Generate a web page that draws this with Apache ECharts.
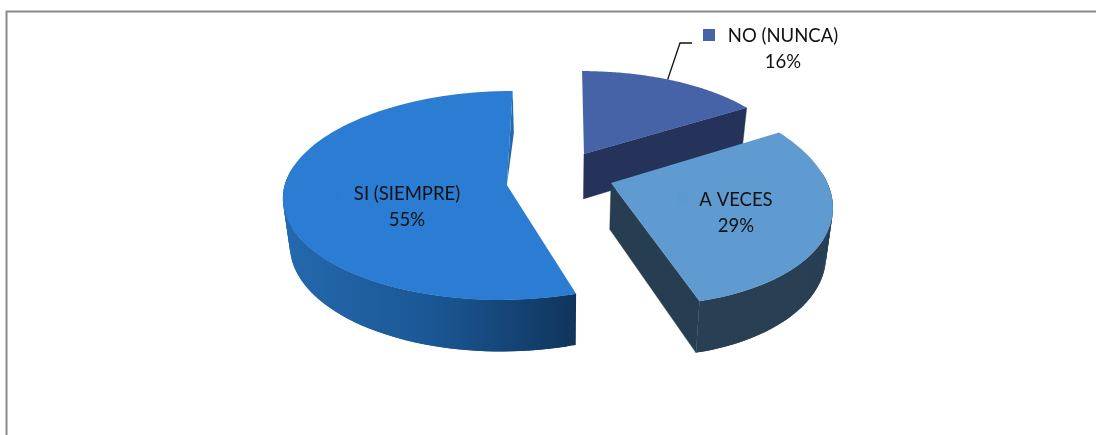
<!DOCTYPE html>
<html><head><meta charset="utf-8">
<style>html,body{margin:0;padding:0;background:#fff}#c{width:1096px;height:435px}</style>
<script src="https://cdn.jsdelivr.net/npm/echarts@6/dist/echarts.min.js"></script></head>
<body><div id="c"></div>
<script>
var categories = ['NO (NUNCA)', 'A VECES', 'SI (SIEMPRE)'];
var percentages = [16, 29, 55];
var topColors = ['#4763a8', '#5f9bd0', '#2a7dd2'];
var sideColors = ['#25325a', '#283f54', null];
var wallColors = ['#25325a', '#273d52', '#2468b0'];
var keyColors = ['#4763a8', '#5c99ce', '#2c7bcc'];

// view of the tilted pie
var view = {X0: 561, Y0: 178, A: 224, B: 102, p: 0.1, depth: 46, shrink: 0.975};
var explodeU = [0.105, 0.222, -0.24];
var explodeV = [-0.241, 0.049, 0.068];
// per-slice perspective distortion [uu, uv, vu, vv]
var warp = [[0.93, 0, 0, 0.93], [0.965, 0.033, 0.063, 1.062], [0.985, -0.004, 0, 1]];

function project(i, theta, r, low) {
  var u = r * Math.sin(theta), v = -r * Math.cos(theta), m = warp[i];
  var U = explodeU[i] + m[0] * u + m[1] * v;
  var V = explodeV[i] + m[2] * u + m[3] * v;
  var w = 1 - view.p * V;
  var x = view.A * U / w * (low ? view.shrink : 1);
  var y = (view.B * V + (low ? view.depth : 0)) / w;
  return [view.X0 + x, view.Y0 + y];
}
function arc(i, a, b, low, n) {
  var pts = [];
  for (var k = 0; k <= n; k++) pts.push(project(i, a + (b - a) * k / n, 1, low));
  return pts;
}
var total = percentages.reduce(function (s, v) { return s + v; }, 0);
var font = '18.5px Lato';
var labelPlace = [null, {x: 736, y: 213}, {x: 407, y: 207}];

function renderItem(params, api) {
  var i = params.dataIndex;
  var before = 0;
  for (var j = 0; j < i; j++) before += percentages[j];
  var a = before / total * 2 * Math.PI;
  var b = (before + api.value(1)) / total * 2 * Math.PI;
  var n = 90;
  var top = arc(i, a, b, false, n);
  var low = arc(i, a, b, true, n);
  var rimFill = i === 2
    ? new echarts.graphic.LinearGradient(project(2, 1.5 * Math.PI, 1, false)[0], 0, project(2, a, 1, false)[0], 0, [
        {offset: 0, color: '#2369ad'}, {offset: 0.5, color: '#1b5795'}, {offset: 1, color: '#10355c'}], true)
    : sideColors[i];
  var kids = [];
  // overlapping quads swept from the top rim to the bottom rim, so no seams show
  for (var k = 0; k < n - 1; k++) {
    var mid = a + (b - a) * (k + 1) / n;
    if (Math.cos(mid) > 0.15) continue; // back of the rim is hidden
    kids.push({type: 'polygon', shape: {points: [top[k], top[k + 2], low[k + 2], low[k]]},
      style: {fill: rimFill}});
  }
  if (i !== 2) {
    kids.push({type: 'polygon', shape: {points: [
      project(i, b, 0, false), project(i, b, 1, false), project(i, b, 1, true), project(i, b, 0, true)
    ]}, style: {fill: wallColors[i], stroke: wallColors[i], lineWidth: 0.4}});
  } else {
    kids.push({type: 'polygon', shape: {points: [
      project(i, b, 0, false), project(i, b, 1, false), project(i, b, 1, true)
    ]}, style: {fill: wallColors[i]}});
  }
  kids.push({type: 'polygon', shape: {points: [project(i, a, 0, false)].concat(top)}, style: {fill: topColors[i]}});
  return {type: 'group', children: kids};
}

var chart = echarts.init(document.getElementById('c'), null, {renderer: 'canvas'});
var noAnchor = (percentages[0] / 2 - 0.5) / total * 2 * Math.PI;
var anchor = project(0, noAnchor, 1, false);
function labelEl(x, y, t) {
  return {type: 'text', z: 20, style: {x: x, y: y, text: t, font: font, fill: '#111', align: 'center', verticalAlign: 'middle'}};
}
chart.setOption({
  animation: false,
  backgroundColor: '#ffffff',
  series: [{
    type: 'custom',
    coordinateSystem: 'none',
    renderItem: renderItem,
    data: categories.map(function (c, i) { return [i, percentages[i]]; }),
    silent: true
  }],
  graphic: {elements: [
    {type: 'polyline', z: 1, shape: {points: [[6.5, 435], [6.5, 11.5], [1096, 11.5]]}, style: {stroke: '#8a8a8a', lineWidth: 2, fill: null}},
    {type: 'polyline', z: 20, shape: {points: [anchor, [680, 43], [692, 43]]}, style: {stroke: '#111', lineWidth: 1.3, fill: null}},
    {type: 'rect', z: 20, shape: {x: 703, y: 29, width: 12, height: 12}, style: {fill: keyColors[0]}},
    {type: 'rect', z: 10, shape: {x: 677, y: 192, width: 11, height: 11}, style: {fill: keyColors[1]}},
    {type: 'rect', z: 10, shape: {x: 330, y: 187, width: 10, height: 11}, style: {fill: keyColors[2]}},
    labelEl(783, 36, categories[0]),
    labelEl(783, 62, percentages[0] + '%'),
    labelEl(labelPlace[1].x, labelPlace[1].y - 13, categories[1]),
    labelEl(labelPlace[1].x, labelPlace[1].y + 13, percentages[1] + '%'),
    labelEl(labelPlace[2].x, labelPlace[2].y - 13, categories[2]),
    labelEl(labelPlace[2].x, labelPlace[2].y + 13, percentages[2] + '%')
  ]}
});
</script></body></html>
